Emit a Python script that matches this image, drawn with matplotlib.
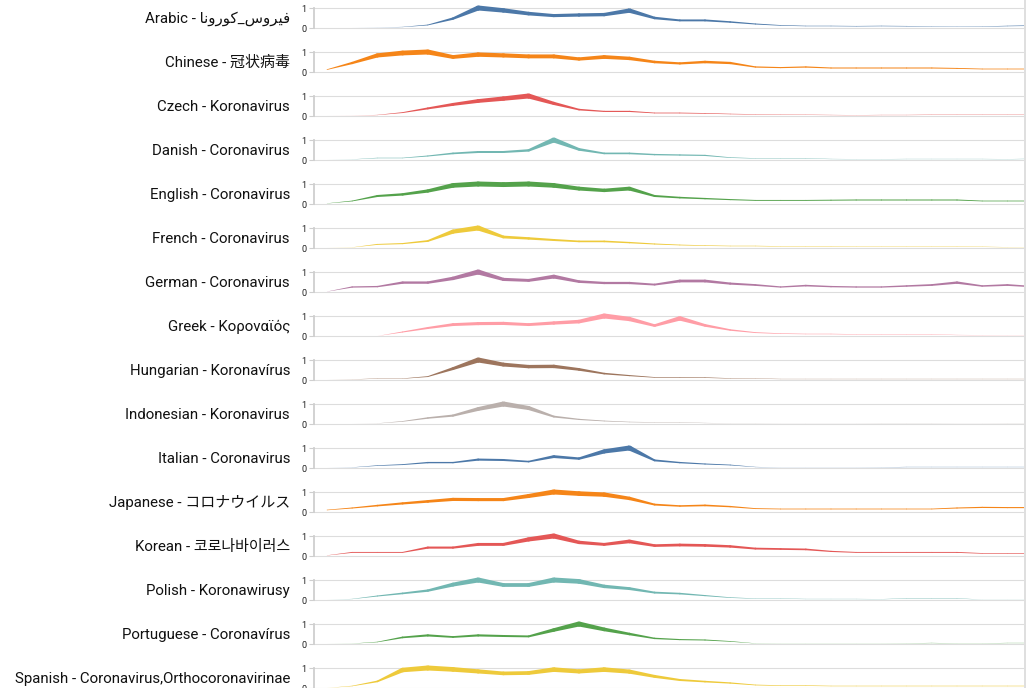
import numpy as np
import matplotlib
matplotlib.use("Agg")
import matplotlib.pyplot as plt
from matplotlib.patches import Polygon
from matplotlib.collections import PatchCollection
from matplotlib.lines import Line2D

# ---------------- data ----------------
labels = [
    "Arabic - \uFE8E\uFEE7\uFEED\uFEAD\uFEEE\uFEDB_\uFEB1\uFEED\uFEAE\uFEF4\uFED3",
    "Chinese - 冠状病毒",
    "Czech - Koronavirus",
    "Danish - Coronavirus",
    "English - Coronavirus",
    "French - Coronavirus",
    "German - Coronavirus",
    "Greek - Κοροναϊός",
    "Hungarian - Koronavírus",
    "Indonesian - Koronavirus",
    "Italian - Coronavirus",
    "Japanese - コロナウイルス",
    "Korean - 코로나바이러스",
    "Polish - Koronawirusy",
    "Portuguese - Coronavírus",
    "Spanish - Coronavirus,Orthocoronavirinae",
]

arabic = [0, 0, 0.02, 0.05, 0.15, 0.47, 1.0, 0.88, 0.72, 0.62, 0.65, 0.67, 0.87, 0.5, 0.38,
          0.38, 0.3, 0.2, 0.13, 0.1, 0.1, 0.09, 0.1, 0.09, 0.07, 0.06, 0.07, 0.1, 0.12]
chinese = [0.12, 0.45, 0.83, 0.95, 1.0, 0.75, 0.87, 0.83, 0.78, 0.78, 0.65, 0.75, 0.68, 0.5, 0.43,
           0.5, 0.45, 0.25, 0.22, 0.25, 0.2, 0.2, 0.2, 0.2, 0.2, 0.18, 0.15, 0.15, 0.15]
czech = [0, 0.01, 0.05, 0.17, 0.38, 0.58, 0.75, 0.87, 1.0, 0.63, 0.32, 0.23, 0.23, 0.15, 0.15,
         0.13, 0.1, 0.08, 0.07, 0.06, 0.05, 0.04, 0.05, 0.05, 0.06, 0.06, 0.06, 0.06, 0.06]
danish = [0, 0.03, 0.1, 0.1, 0.2, 0.33, 0.4, 0.4, 0.48, 1.0, 0.53, 0.33, 0.33, 0.27, 0.25,
          0.23, 0.12, 0.08, 0.08, 0.08, 0.05, 0.04, 0.04, 0.05, 0.05, 0.05, 0.05, 0.04, 0.06]
english = [0.03, 0.15, 0.4, 0.48, 0.65, 0.93, 1.0, 0.97, 1.0, 0.93, 0.77, 0.68, 0.77, 0.4, 0.32,
           0.27, 0.22, 0.18, 0.18, 0.18, 0.19, 0.2, 0.2, 0.2, 0.2, 0.2, 0.15, 0.15, 0.15]
french = [0.0, 0.03, 0.18, 0.22, 0.35, 0.82, 1.0, 0.55, 0.48, 0.4, 0.33, 0.33, 0.27, 0.2, 0.15,
          0.12, 0.1, 0.1, 0.08, 0.08, 0.08, 0.07, 0.07, 0.07, 0.07, 0.07, 0.06, 0.04, 0.03]
german = [0.02, 0.25, 0.27, 0.47, 0.47, 0.68, 1.0, 0.63, 0.58, 0.77, 0.52, 0.45, 0.45, 0.37, 0.55,
          0.55, 0.42, 0.35, 0.25, 0.32, 0.27, 0.25, 0.25, 0.3, 0.35, 0.47, 0.3, 0.35, 0.27]
greek = [0, 0, 0, 0.2, 0.4, 0.57, 0.62, 0.63, 0.57, 0.65, 0.72, 1.0, 0.85, 0.52, 0.88,
         0.53, 0.3, 0.17, 0.12, 0.1, 0.1, 0.08, 0.08, 0.08, 0.08, 0.05, 0.04, 0.03, 0.03]
hungarian = [0, 0.03, 0.07, 0.07, 0.17, 0.57, 1.0, 0.77, 0.67, 0.68, 0.53, 0.32, 0.22, 0.13, 0.13,
             0.12, 0.08, 0.07, 0.05, 0.05, 0.05, 0.05, 0.05, 0.05, 0.05, 0.05, 0.05, 0.05, 0.05]
indonesian = [0, 0, 0.03, 0.13, 0.3, 0.42, 0.75, 1.0, 0.8, 0.37, 0.23, 0.15, 0.1, 0.08, 0.08,
              0.05, 0.03, 0.03, 0.02, 0.02, 0.02, 0.02, 0.03, 0.03, 0.03, 0.02, 0.02, 0.03, 0.03]
italian = [0, 0.03, 0.12, 0.17, 0.27, 0.27, 0.42, 0.4, 0.32, 0.57, 0.47, 0.83, 1.0, 0.38, 0.27,
           0.2, 0.15, 0.05, 0.02, 0.02, 0.02, 0.02, 0.03, 0.05, 0.05, 0.05, 0.05, 0.05, 0.05]
japanese = [0.1, 0.2, 0.32, 0.43, 0.53, 0.63, 0.62, 0.62, 0.8, 1.0, 0.92, 0.87, 0.68, 0.37, 0.3,
            0.33, 0.27, 0.17, 0.15, 0.15, 0.15, 0.15, 0.15, 0.15, 0.15, 0.2, 0.23, 0.22, 0.22]
korean = [0.03, 0.18, 0.18, 0.18, 0.42, 0.42, 0.58, 0.58, 0.83, 1.0, 0.68, 0.58, 0.73, 0.52, 0.55,
          0.53, 0.48, 0.37, 0.35, 0.33, 0.23, 0.18, 0.18, 0.18, 0.18, 0.18, 0.13, 0.13, 0.13]
polish = [0, 0.05, 0.2, 0.33, 0.47, 0.77, 1.0, 0.75, 0.75, 1.0, 0.93, 0.68, 0.57, 0.37, 0.32,
          0.22, 0.12, 0.07, 0.07, 0.05, 0.05, 0.05, 0.04, 0.08, 0.08, 0.08, 0.02, 0.02, 0.02]
portuguese = [0, 0.02, 0.1, 0.33, 0.43, 0.35, 0.43, 0.4, 0.38, 0.7, 1.0, 0.73, 0.5, 0.28, 0.22,
              0.2, 0.13, 0.03, 0.02, 0.02, 0.02, 0.02, 0.02, 0.03, 0.05, 0.03, 0.03, 0.05, 0.05]
spanish = [0, 0.1, 0.33, 0.9, 1.0, 0.93, 0.83, 0.73, 0.75, 0.92, 0.83, 0.92, 0.82, 0.58, 0.4,
           0.32, 0.25, 0.15, 0.12, 0.12, 0.1, 0.1, 0.1, 0.1, 0.1, 0.1, 0.1, 0.1, 0.1]

series = [arabic, chinese, czech, danish, english, french, german, greek, hungarian,
          indonesian, italian, japanese, korean, polish, portuguese, spanish]

palette = ["#4c78a8", "#f58518", "#e45756", "#72b7b2", "#54a24b", "#eeca3b", "#b279a2",
           "#ff9da6", "#9d755d", "#bab0ac"]

# ---------------- layout ----------------
W, H = 1033, 688
DPI = 100
FONT = ["Roboto", "Noto Sans CJK SC", "DejaVu Sans"]
plt.rcParams["font.family"] = FONT

fig = plt.figure(figsize=(W / DPI, H / DPI), dpi=DPI)
fig.patch.set_facecolor("white")

X0, X1 = 314, 1024          # plot area in px
STEP, FIRST = 25.2, 327     # spacing of the time points in px
ROW, TOP, BAND, PAD = 44, 8, 20, 10
WMAX = 5.0                  # trail width in px at value 1


def trail(ax, xs, ys, color):
    """Variable-width line (width proportional to value), like a Vega trail mark."""
    pts = ax.transData.transform(np.column_stack([xs, ys]))
    hw = np.clip(np.asarray(ys, float), 0, None) * WMAX / 2.0
    inv = ax.transData.inverted()
    patches = []
    for i in range(len(pts) - 1):
        p0, p1 = pts[i], pts[i + 1]
        d = p1 - p0
        n = np.array([-d[1], d[0]]) / np.hypot(d[0], d[1])
        quad = np.array([p0 + n * hw[i], p1 + n * hw[i + 1], p1 - n * hw[i + 1], p0 - n * hw[i]])
        patches.append(Polygon(inv.transform(quad), closed=True))
    ang = np.linspace(0, 2 * np.pi, 25)[:-1]
    ring = np.column_stack([np.cos(ang), np.sin(ang)])
    for i in range(len(pts)):
        if hw[i] <= 0:
            continue
        circ = pts[i] + hw[i] * ring
        patches.append(Polygon(inv.transform(circ), closed=True))
    pc = PatchCollection(patches, facecolor=color, edgecolor="none", linewidths=0, zorder=3)
    pc.set_snap(False)
    ax.add_collection(pc)


for i, (lab, vals) in enumerate(zip(labels, series)):
    top_px = TOP + ROW * i
    bot_px = top_px + BAND
    ax = fig.add_axes([X0 / W, (H - (bot_px + PAD)) / H, (X1 - X0) / W, (BAND + 2 * PAD) / H])
    ax.set_facecolor("none")
    xs = np.arange(len(vals))
    ax.set_xlim((X0 - FIRST) / STEP, (X1 - FIRST) / STEP)
    ax.set_ylim(-PAD / BAND, 1 + PAD / BAND)
    for s in ["top", "right", "bottom"]:
        ax.spines[s].set_visible(False)
    ax.spines["left"].set_bounds(0, 1)
    ax.spines["left"].set_color("#cfcfcf")
    ax.spines["left"].set_linewidth(1.3)
    ax.set_xticks([])
    ax.set_yticks([0, 1])
    ax.set_yticklabels(["0", "1"])
    ax.tick_params(axis="y", length=3.5, width=0.8, color="#cfcfcf", labelsize=6.6,
                   labelcolor="#222222", pad=2)
    for v in (0, 1):
        ax.axhline(v, color="#dddddd", lw=0.8, zorder=1)
    trail(ax, xs, vals, palette[i % len(palette)])
    fig.text(290 / W, 1 - (top_px + 11) / H, lab, ha="right", va="center",
             fontsize=10.8, color="#111111", family=FONT)

fig.add_artist(Line2D([1024.5 / W, 1024.5 / W], [0, 1], color="#dcdcdc", lw=1.3,
                      transform=fig.transFigure))

fig.savefig("out.png", dpi=DPI, facecolor="white")
